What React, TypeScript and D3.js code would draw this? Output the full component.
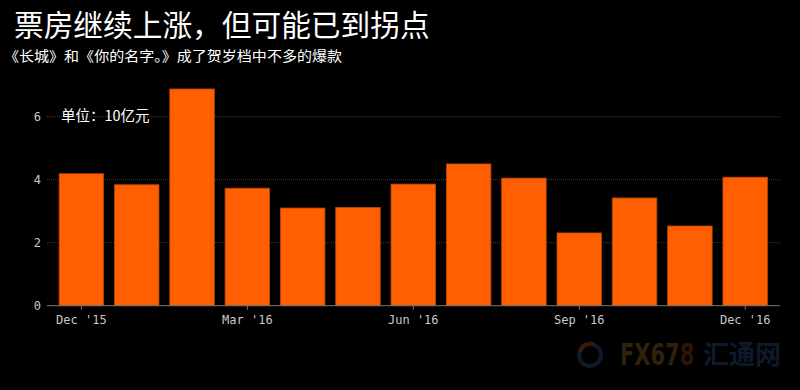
import React from "react";
import * as d3 from "d3";

const width = 800;
const height = 390;
const margin = { left: 47, right: 20, top: 80, bottom: 84 }; // plot box: x 47..780, y 80..306

// monthly box office, 10 billion yuan units
const months = [
  "2015-12", "2016-01", "2016-02", "2016-03", "2016-04", "2016-05", "2016-06",
  "2016-07", "2016-08", "2016-09", "2016-10", "2016-11", "2016-12",
];
const revenue = [4.19, 3.84, 6.88, 3.73, 3.1, 3.12, 3.86, 4.5, 4.05, 2.31, 3.42, 2.53, 4.08];
const yTicks = [0, 2, 4, 6];
const xTickMonths = ["2015-12", "2016-03", "2016-06", "2016-09", "2016-12"];
const xTickLabels = ["Dec '15", "Mar '16", "Jun '16", "Sep '16", "Dec '16"];

const title = "票房继续上涨，但可能已到拐点";
const subtitle = "《长城》和《你的名字。》成了贺岁档中不多的爆款";
const unitLabel = "单位：10亿元";

const cjk = "'Noto Sans CJK SC', 'Noto Sans', sans-serif";
const mono = "'DejaVu Sans Mono', 'Liberation Mono', monospace";

const App = () => {
  const x = d3
    .scaleBand<string>()
    .domain(months)
    .range([53.6, 773])
    .paddingInner(0.195)
    .paddingOuter(0.1);
  const y = d3
    .scaleLinear()
    .domain([0, 6])
    .range([305.7, 116.7]);

  const axisLeft = margin.left;
  const axisRight = width - margin.right;

  return (
    <svg
      width={width}
      height={height}
      style={{ position: "absolute", left: 0, top: 0, background: "#000" }}
    >
      <defs>
        <linearGradient id="fxGrad" gradientUnits="userSpaceOnUse" x1={0} x2={74} y1={0} y2={0}>
          <stop offset="0.79" stopColor="#6b4a1a" />
          <stop offset="0.79" stopColor="#6b2a10" />
        </linearGradient>
      </defs>
      <rect width={width} height={height} fill="#000" />
      <text x={14} y={36} fill="#fff" fontFamily={cjk} fontSize={29.7}>
        {title}
      </text>
      <text
        x={4}
        y={61}
        fill="#fff"
        fontFamily={cjk}
        fontSize={14}
        textLength={338}
        lengthAdjust="spacingAndGlyphs"
      >
        {subtitle}
      </text>

      {/* gridlines */}
      {yTicks.filter((t) => t > 0).map((t) => (
        <line
          key={t}
          x1={axisLeft}
          x2={axisRight}
          y1={y(t)}
          y2={y(t)}
          stroke="#3a3a3a"
          strokeDasharray="1,1"
        />
      ))}

      {/* y tick labels */}
      {yTicks.map((t) => (
        <text
          key={t}
          x={41}
          y={y(t) + 4}
          fill="#c8c8c8"
          fontFamily={mono}
          fontSize={12}
          textAnchor="end"
        >
          {t}
        </text>
      ))}

      <text x={61} y={121} fill="#fff" fontFamily={cjk} fontSize={14.5}>
        {unitLabel}
      </text>

      {/* bars */}
      {months.map((m, i) => (
        <rect
          key={m}
          x={x(m)}
          y={y(revenue[i])}
          width={x.bandwidth()}
          height={y(0) - y(revenue[i])}
          fill="#ff5f00"
          stroke="#b84500"
          strokeWidth={0.8}
        />
      ))}

      {/* x axis */}
      <line x1={axisLeft} x2={axisRight} y1={y(0)} y2={y(0)} stroke="#777" strokeWidth={1} />
      {xTickMonths.map((m, i) => {
        const cx = (x(m) ?? 0) + x.bandwidth() / 2;
        return (
          <g key={m}>
            <line x1={cx} x2={cx} y1={y(0)} y2={y(0) + 4} stroke="#777" />
            <text
              x={cx}
              y={324}
              fill="#c8c8c8"
              fontFamily={mono}
              fontSize={12}
              textAnchor="middle"
            >
              {xTickLabels[i]}
            </text>
          </g>
        );
      })}

      {/* watermark */}
      <g opacity={0.45}>
        <circle cx={590} cy={355} r={11} fill="none" stroke="#1d3a5c" strokeWidth={4} />
        <path d="M580,352 A11,11 0 0 1 594,344" fill="none" stroke="#7a3d10" strokeWidth={4} />
        <g transform="translate(620,365) scale(1,1.45)">
          <text
            x={0}
            y={0}
            fill="url(#fxGrad)"
            fontFamily="'DejaVu Sans', sans-serif"
            fontWeight="bold"
            fontSize={21}
          >
            FX678
          </text>
        </g>
        <text
          x={703}
          y={364}
          fill="#1d3a5c"
          fontFamily={cjk}
          fontWeight="bold"
          fontSize={26}
          textLength={78}
          lengthAdjust="spacingAndGlyphs"
        >
          汇通网
        </text>
      </g>
    </svg>
  );
};

export default App;
